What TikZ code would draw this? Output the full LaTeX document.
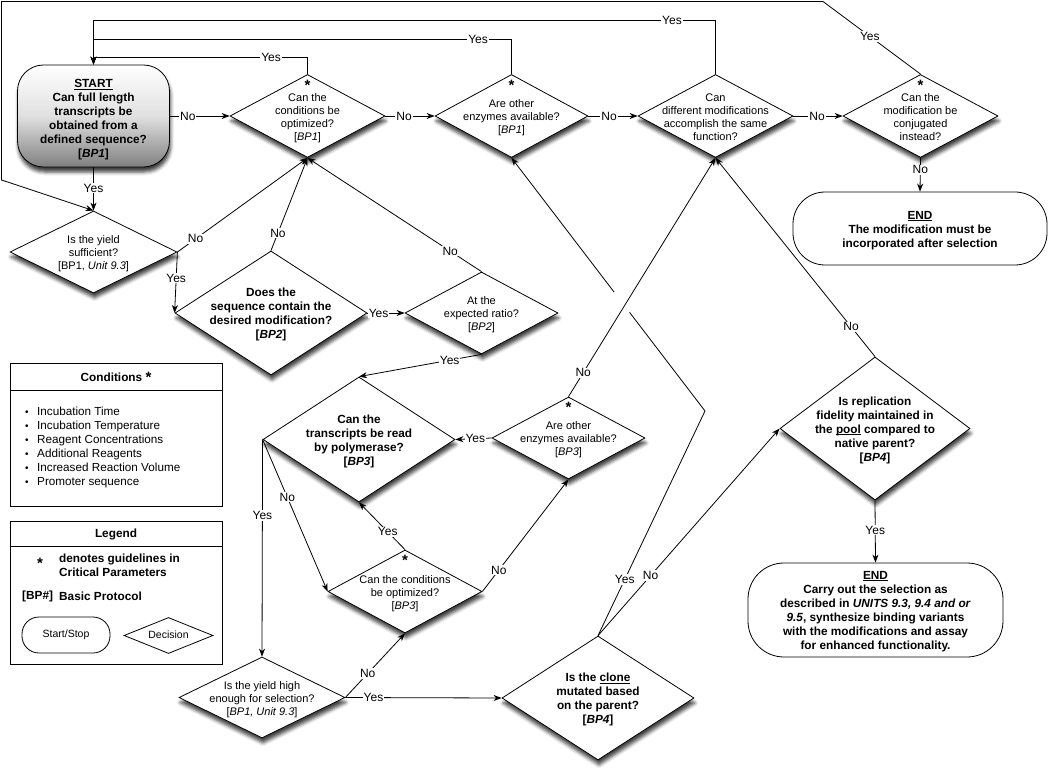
\documentclass[tikz,border=0pt]{standalone}
\usepackage{fontspec}
\setmainfont{Liberation Sans}
\usetikzlibrary{shapes.geometric,arrows.meta,calc,shadows,shadows.blur}
\newcommand{\fsnorm}{\fontsize{11}{13}\selectfont}
\newcommand{\fsbold}{\fontsize{11.8}{14}\selectfont\bfseries}
\newcommand{\fsleg}{\fontsize{11.7}{14}\selectfont}
\newcommand{\dtxt}[2][-4.8pt]{\smash{\raisebox{#1}{\makebox[0pt]{\begin{tabular}{@{}c@{}}#2\end{tabular}}}}}
\newcommand{\undl}[1]{\leavevmode\setbox0=\hbox{#1}\rlap{\rule[-1.7pt]{\wd0}{0.7pt}}\box0\relax}
\newcommand{\bul}{\makebox[12pt][l]{\fontsize{10}{10}\selectfont\raisebox{0.5pt}{\textbullet}}}
\tikzset{
  shd/.style={blur shadow={shadow xshift=1pt, shadow yshift=-5pt, shadow blur radius=3.5pt, shadow opacity=75}},
  dec/.style={diamond, draw, line width=0.8pt, fill=white, inner sep=0pt, font=\fsnorm, shd},
  decb/.style={dec, font=\fsbold},
  sz/.style 2 args={minimum width=#1pt, minimum height=#2pt},
  astk/.style={inner sep=0pt, font=\fontsize{15}{15}\selectfont\bfseries},
  term/.style={rectangle, draw, line width=0.8pt, fill=white, inner sep=0pt, font=\fsbold},
  startbox/.style={rectangle, draw, line width=0.8pt, rounded corners=26pt, inner sep=0pt,
     top color=white, bottom color=black!50, middle color=black!12, font=\fsbold, shd},
  ln/.style={line width=0.8pt},
  arr/.style={line width=0.8pt, -{Stealth[length=8pt,width=6pt,inset=2.5pt]}},
  lbl/.style={fill=white, inner sep=1pt, font=\fontsize{12}{12}\selectfont},
  boxx/.style={draw, line width=0.8pt, anchor=north west, inner sep=0pt, minimum width=212pt, minimum height=143pt},
}
\begin{document}
\begin{tikzpicture}[x=1pt,y=-1pt]
\useasboundingbox (0,0) rectangle (1050,770);

% ---------- main nodes ----------
\node[startbox, minimum width=152pt, minimum height=102pt] (start) at (93.5,116)
  {\dtxt[-7pt]{\undl{START}\\Can full length\\transcripts be\\obtained from a\\defined sequence?\\{[}\textit{BP1}{]}}};

\node[dec, sz={155}{83}] (c1) at (307.5,116) {\dtxt{Can the\\conditions be\\optimized?\\{[}\textit{BP1}{]}}};
\node[dec, sz={153}{83}] (e1) at (511.5,116) {\dtxt{Are other\\enzymes available?\\{[}\textit{BP1}{]}}};
\node[dec, sz={155}{83}] (dm) at (715.5,116) {\dtxt{Can\\different modifications\\accomplish the same\\function?}};
\node[dec, sz={155}{83}] (cj) at (920.5,116) {\dtxt{Can the\\modification be\\conjugated\\instead?}};

\node[term, rounded corners=32pt, minimum width=254pt, minimum height=73pt] (end1) at (920,228.5)
  {\dtxt[-5pt]{\undl{END}\\The modification must be\\incorporated after selection}};

\node[dec, sz={167}{82}] (ys) at (93.5,252) {\dtxt{Is the yield\\sufficient?\\{[}BP1, \textit{Unit 9.3}{]}}};
\node[decb, sz={192}{124}] (sq) at (271,313) {\dtxt{Does the\\sequence contain the\\desired modification?\\{[}\textit{BP2}{]}}};
\node[dec, sz={153}{82}] (er) at (481.5,313) {\dtxt{At the\\expected ratio?\\{[}\textit{BP2}{]}}};
\node[decb, sz={192}{125}] (tr) at (359,439.5) {\dtxt{Can the\\transcripts be read\\by polymerase?\\{[}\textit{BP3}{]}}};
\node[dec, sz={153}{82}] (e3) at (568.5,438) {\dtxt{Are other\\enzymes available?\\{[}\textit{BP3}{]}}};
\node[dec, sz={154}{83}] (c3) at (405,591.5) {\dtxt{Can the conditions\\be optimized?\\{[}\textit{BP3}{]}}};
\node[dec, sz={166}{81}] (yh) at (262,697.5) {\dtxt{Is the yield high\\enough for selection?\\{[}\textit{BP1, Unit 9.3}{]}}};
\node[decb, sz={192}{124}] (cl) at (598,698) {\dtxt{Is the \undl{clone}\\mutated based\\on the parent?\\{[}\textit{BP4}{]}}};
\node[decb, sz={190}{143}] (rf) at (875,428.5) {\dtxt{Is replication\\fidelity maintained in\\the \undl{pool} compared to\\native parent?\\{[}\textit{BP4}{]}}};

\node[term, rounded corners=36pt, minimum width=255pt, minimum height=94pt] (end2) at (875.5,610)
  {\dtxt[-4.5pt]{\undl{END}\\Carry out the selection as\\described in \textit{UNITS 9.3, 9.4 and or}\\\textit{9.5}, synthesize binding variants\\with the modifications and assay\\for enhanced functionality.}};

% stars
\node[astk] (s1) at ([yshift=-11pt]c1.north) {*};
\node[astk] (s2) at ([yshift=-11pt]e1.north) {*};
\node[astk] (s3) at ([yshift=-11pt]cj.north) {*};
\node[astk] (s4) at ([yshift=-11pt]e3.north) {*};
\node[astk] (s5) at ([yshift=-11pt]c3.north) {*};

% ---------- connectors ----------
\draw[arr] (start.east) -- node[lbl,pos=0.3]{No} (c1.west);
\draw[arr] (c1.east) -- node[lbl,pos=0.38]{No} (e1.west);
\draw[arr] (e1.east) -- node[lbl,pos=0.42]{No} (dm.west);
\draw[arr] (dm.east) -- node[lbl,pos=0.48]{No} (cj.west);
\draw[arr] (cj.south) -- node[lbl,pos=0.35]{No} (end1.north);

\draw[arr] (dm.north) -- (dm.north |- 0,20) -- node[lbl,pos=0.07]{Yes} (start.north |- 0,20) -- (start.north);
\draw[arr] (e1.north) -- (e1.north |- 0,39) -- node[lbl,pos=0.08]{Yes} (start.north |- 0,39) -- (start.north);
\draw[arr] (c1.north) -- (c1.north |- 0,57) -- node[lbl,pos=0.17]{Yes} (start.north |- 0,57) -- (start.north);

\coordinate (k2) at (823,1.5);
\coordinate (k3) at (1.5,1.5);
\coordinate (k4) at (1.5,180);
\draw[arr] (cj.north) -- node[lbl,pos=0.52]{Yes} (k2) -- (k3) -- (k4) -- (ys.north);

\draw[arr] (start.south) -- node[lbl,pos=0.48]{Yes} (ys.north);
\draw[arr] (ys.east) -- node[lbl,pos=0.14]{No} (c1.south);
\draw[arr] (ys.east) -- node[lbl,pos=0.43]{Yes} (sq.west);
\draw[arr] (sq.north) -- node[lbl,pos=0.19]{No} (c1.south);
\draw[arr] (sq.east) -- node[lbl,pos=0.3]{Yes} (er.west);
\draw[arr] (er.north) -- node[lbl,pos=0.18]{No} (c1.south);
\draw[arr] (er.south) -- node[lbl,pos=0.26]{Yes} (tr.north);
\draw[arr] (e3.west) -- node[lbl,pos=0.45]{Yes} (tr.east);
\draw[arr] (e3.north) -- node[lbl,pos=0.1]{No} (dm.south);
\draw[arr] (c3.north) -- node[lbl,pos=0.375]{Yes} (tr.south);
\draw[arr] (c3.east) -- node[lbl,pos=0.19]{No} (e3.south);
\draw[arr] (tr.west) -- node[lbl,pos=0.38]{No} (c3.west);
\draw[arr] (tr.west) -- node[lbl,pos=0.35]{Yes} (yh.north);
\draw[arr] (yh.east) -- node[lbl,pos=0.375]{No} (c3.south);
\draw[arr] (yh.east) -- node[lbl,pos=0.18]{Yes} (cl.west);

\coordinate (k1) at (705,411);
\draw[ln] (cl.north) -- node[lbl,pos=0.25]{Yes} (k1) -- ($(k1)!0.39!(e1.south)$);
\draw[arr] ($(k1)!0.47!(e1.south)$) -- (e1.south);
\draw[arr] (cl.north) -- node[lbl,pos=0.29]{No} (rf.west);
\draw[arr] (rf.north) -- node[lbl,pos=0.15]{No} (dm.south);
\draw[arr] (rf.south) -- node[lbl,pos=0.48]{Yes} (end2.north);

% ---------- Conditions box ----------
\node[boxx] (condbox) at (10,363) {};
\draw[ln] (condbox.west |- 0,390) -- (condbox.east |- 0,390);
\node[font=\fsbold, inner sep=0pt] (condhead) at (116,377) {Conditions \raisebox{-1pt}{\fontsize{15}{15}\selectfont *}};
\node[anchor=north west, align=left, inner sep=0pt, font=\fsleg] (condlist) at (25,407)
  {\bul Incubation Time\\\bul Incubation Temperature\\\bul Reagent Concentrations\\\bul Additional Reagents\\\bul Increased Reaction Volume\\\bul Promoter sequence};

% ---------- Legend box ----------
\node[boxx] (legbox) at (10,521) {};
\draw[ln] (legbox.west |- 0,546) -- (legbox.east |- 0,546);
\node[font=\fsbold, inner sep=0pt] (leghead) at (116,534) {Legend};
\node[astk] (lstar) at (40,563) {*};
\node[anchor=west, align=left, inner sep=0pt, font=\fsbold] (legstar) at (59,565.5) {denotes guidelines in\\Critical Parameters};
\node[anchor=west, inner sep=0pt, font=\fsbold] (legbp) at (22,596) {{[}BP\#{]}};
\node[anchor=west, inner sep=0pt, font=\fsbold] (legbptxt) at (59,596) {Basic Protocol};
\node[draw, line width=0.8pt, rounded corners=17pt, minimum width=88pt, minimum height=36pt, inner sep=0pt,
      font=\fontsize{10.5}{12}\selectfont] (legss) at (66,635) {Start/Stop};
\node[diamond, draw, line width=0.8pt, minimum width=89pt, minimum height=36pt, inner sep=0pt,
      font=\fontsize{10.5}{12}\selectfont] (legdec) at (168.5,635.5) {\dtxt[-3pt]{Decision}};
\end{tikzpicture}
\end{document}
